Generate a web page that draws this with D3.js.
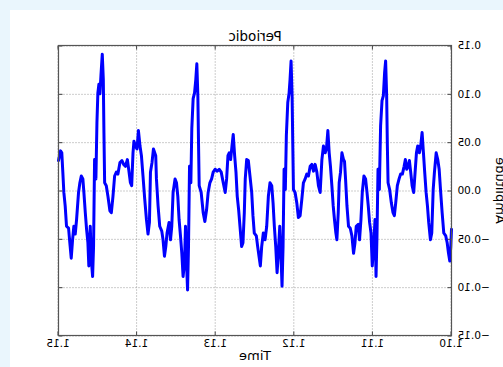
<!DOCTYPE html>
<html>
<head>
<meta charset="utf-8">
<script src="https://cdn.jsdelivr.net/npm/d3@7"></script>
<style>
  html, body { margin: 0; padding: 0; background: #eaf6fd; }
  svg { display: block; transform: scaleX(-1); }
  .axis text { font-family: "DejaVu Sans", sans-serif; font-size: 10.5px; fill: #000; }
  .axis line { stroke: #444; }
  .grid line { stroke: #9a9a9a; stroke-dasharray: 1,2; }
  .lbl { font-family: "DejaVu Sans", sans-serif; fill: #000; }
</style>
</head>
<body>
<div id="chart"></div>
<script>
// signal samples (time descending)
const times = [
  1.15000,1.14974,1.14958,1.14945,1.14932,1.14915,1.14898,1.14872,1.14856,1.14838,
  1.14821,1.14805,1.14787,1.14770,1.14745,1.14728,1.14710,1.14690,1.14677,1.14659,
  1.14643,1.14626,1.14614,1.14596,1.14583,1.14566,1.14554,1.14541,1.14524,1.14511,
  1.14499,1.14486,1.14473,1.14460,1.14443,1.14430,1.14422,1.14413,1.14392,1.14371,
  1.14346,1.14328,1.14307,1.14286,1.14264,1.14244,1.14218,1.14193,1.14171,1.14149,
  1.14124,1.14107,1.14085,1.14069,1.14052,1.14040,1.14022,1.14001,1.13983,1.13963,
  1.13945,1.13925,1.13903,1.13881,1.13861,1.13843,1.13830,1.13810,1.13792,
  1.13763,1.13754,1.13733,1.13712,1.13686,1.13670,1.13652,1.13635,1.13619,1.13593,
  1.13575,1.13559,1.13542,1.13517,1.13499,1.13482,1.13466,1.13448,1.13431,1.13415,
  1.13397,1.13384,1.13371,1.13358,1.13346,1.13333,1.13316,1.13304,1.13287,1.13269,
  1.13253,1.13240,1.13227,1.13218,1.13210,1.13185,1.13159,1.13138,1.13116,1.13096,
  1.13074,1.13052,1.13032,1.13006,1.12981,1.12955,1.12930,1.12904,1.12879,1.12861,
  1.12844,1.12828,1.12810,1.12793,1.12777,1.12759,1.12742,1.12726,1.12708,1.12691,
  1.12670,1.12653,1.12636,1.12624,1.12606,1.12585,1.12564,
  1.12542,1.12526,1.12509,1.12483,1.12466,1.12449,1.12432,1.12415,1.12394,1.12372,
  1.12351,1.12330,1.12309,1.12287,1.12270,1.12254,1.12236,1.12219,1.12203,1.12185,
  1.12168,1.12156,1.12143,1.12130,1.12114,1.12101,1.12083,1.12066,1.12054,1.12041,
  1.12028,1.12019,1.12011,1.11990,1.11968,1.11948,1.11926,1.11904,1.11884,1.11862,
  1.11841,1.11820,1.11798,1.11777,1.11756,1.11735,1.11713,1.11693,1.11671,1.11649,
  1.11629,1.11607,1.11591,1.11573,1.11556,1.11540,1.11522,1.11505,1.11489,1.11471,
  1.11458,1.11441,1.11429,1.11412,1.11394,1.11374,
  1.11361,1.11348,1.11330,1.11310,1.11288,1.11267,1.11246,1.11228,1.11212,1.11186,
  1.11170,1.11152,1.11135,1.11114,1.11093,1.11075,1.11059,1.11042,1.11024,1.11008,
  1.10991,1.10973,1.10960,1.10948,1.10935,1.10918,1.10902,1.10884,1.10867,1.10851,
  1.10838,1.10825,1.10816,1.10807,1.10787,1.10765,1.10744,1.10727,1.10710,1.10689,
  1.10667,1.10647,1.10625,1.10603,1.10587,1.10570,1.10552,1.10536,1.10519,1.10501,
  1.10481,1.10463,1.10446,1.10430,1.10408,1.10392,1.10374,1.10357,1.10341,1.10323,
  1.10306,1.10290,1.10268,1.10251,1.10233,1.10217,1.10195,1.10175,1.10157,1.10140,
  1.10119,1.10098,1.10073,1.10055,1.10038,1.10022,1.10009,1.10000
];

const amplitude = [
  0.031,0.041,0.039,0.019,-0.002,-0.016,-0.037,-0.039,-0.054,-0.070,
  -0.051,-0.037,-0.045,-0.030,-0.002,0.008,0.015,0.012,-0.002,-0.023,
  -0.040,-0.054,-0.078,-0.037,-0.071,-0.089,-0.058,0.032,0.012,0.070,
  0.101,0.110,0.100,0.119,0.141,0.115,0.060,0.008,0.005,-0.006,
  -0.021,-0.023,-0.006,0.015,0.019,0.017,0.029,0.031,0.027,0.025,
  0.032,0.022,0.008,0.005,0.039,0.051,0.046,0.043,0.062,0.046,
  0.036,0.015,-0.009,-0.030,-0.045,-0.033,0.019,0.029,0.043,
  0.036,0.012,-0.016,-0.037,-0.042,-0.051,-0.068,-0.058,-0.044,-0.033,
  -0.051,-0.037,-0.002,0.012,0.008,-0.006,-0.030,-0.047,-0.065,-0.089,
  -0.075,-0.037,-0.075,-0.103,-0.058,0.025,0.008,0.064,0.095,0.101,
  0.115,0.131,0.098,0.046,0.005,-0.002,-0.023,-0.032,-0.020,-0.002,
  0.008,0.012,0.019,0.022,0.020,0.022,0.019,0.008,-0.002,0.012,
  0.036,0.039,0.032,0.046,0.058,0.036,0.019,-0.006,-0.020,-0.037,
  -0.058,-0.054,-0.023,0.012,0.032,0.031,0.015,
  -0.002,-0.026,-0.044,-0.047,-0.058,-0.068,-0.078,-0.058,-0.044,-0.051,
  -0.037,-0.006,0.008,0.005,-0.013,-0.037,-0.058,-0.085,-0.065,-0.037,
  -0.071,-0.099,-0.058,0.022,0.001,0.057,0.091,0.101,0.115,0.134,
  0.098,0.046,0.001,-0.002,-0.013,-0.028,-0.026,-0.009,0.008,0.012,
  0.017,0.015,0.025,0.027,0.020,0.027,0.019,0.005,-0.002,0.032,
  0.046,0.039,0.043,0.062,0.039,0.025,0.005,-0.016,-0.030,-0.044,
  -0.051,-0.023,0.008,0.019,0.039,0.032,
  0.030,0.012,-0.016,-0.037,-0.039,-0.047,-0.065,-0.054,-0.037,-0.035,
  -0.051,-0.030,-0.002,0.015,0.012,-0.002,-0.016,-0.033,-0.044,-0.078,
  -0.058,-0.030,-0.089,-0.047,0.022,0.001,0.067,0.093,0.098,0.122,
  0.134,0.098,0.046,0.008,0.001,-0.013,-0.023,-0.026,-0.013,0.005,
  0.012,0.017,0.017,0.025,0.032,0.022,0.025,0.031,0.019,0.005,
  -0.002,0.019,0.039,0.046,0.039,0.046,0.060,0.039,0.019,-0.002,
  -0.016,-0.033,-0.051,-0.044,0.001,0.019,0.039,0.032,0.022,0.001,
  -0.023,-0.044,-0.047,-0.054,-0.065,-0.073,-0.058,-0.040
];

const xTicks = [1.10, 1.11, 1.12, 1.13, 1.14, 1.15];
const yTicks = [-0.15, -0.10, -0.05, 0.00, 0.05, 0.10, 0.15];
const titleText = 'Periodic';
const xLabel = 'Time';
const yLabel = 'Amplitude';

const W = 503, H = 367;
const plot = {left: 51.5, right: 444.5, top: 45.5, bottom: 335.5};

const svg = d3.select('#chart').append('svg')
  .attr('width', W)
  .attr('height', H);

// figure face
svg.append('rect')
  .attr('x', 0).attr('y', 10)
  .attr('width', 493).attr('height', H - 10)
  .attr('fill', '#fff');

const x = d3.scaleLinear().domain([1.10, 1.15]).range([plot.left, plot.right]);
const y = d3.scaleLinear().domain([-0.15, 0.15]).range([plot.bottom, plot.top]);
const fmt = d3.format('.2f');

// dotted grid
svg.append('g')
  .attr('class', 'grid')
  .attr('transform', `translate(0,${plot.bottom})`)
  .call(d3.axisBottom(x).tickValues(xTicks).tickSize(-(plot.bottom - plot.top)).tickFormat(''))
  .call(g => g.select('.domain').remove());

svg.append('g')
  .attr('class', 'grid')
  .attr('transform', `translate(${plot.left},0)`)
  .call(d3.axisLeft(y).tickValues(yTicks).tickSize(-(plot.right - plot.left)).tickFormat(''))
  .call(g => g.select('.domain').remove());

// signal
const data = d3.zip(times, amplitude);
const line = d3.line()
  .x(d => x(d[0]))
  .y(d => y(d[1]));

svg.append('path')
  .datum(data)
  .attr('fill', 'none')
  .attr('stroke', '#0000ff')
  .attr('stroke-width', 3)
  .attr('stroke-linejoin', 'round')
  .attr('stroke-linecap', 'round')
  .attr('d', line);

// axes with inward ticks
svg.append('g')
  .attr('class', 'axis')
  .attr('transform', `translate(0,${plot.bottom})`)
  .call(d3.axisBottom(x).tickValues(xTicks).tickFormat(fmt).tickSize(-4).tickPadding(4))
  .call(g => g.select('.domain').remove());

svg.append('g')
  .attr('class', 'axis')
  .attr('transform', `translate(0,${plot.top})`)
  .call(d3.axisTop(x).tickValues(xTicks).tickFormat('').tickSize(-4))
  .call(g => g.select('.domain').remove());

svg.append('g')
  .attr('class', 'axis')
  .attr('transform', `translate(${plot.left},0)`)
  .call(d3.axisLeft(y).tickValues(yTicks).tickFormat(fmt).tickSize(-4).tickPadding(6))
  .call(g => g.select('.domain').remove());

svg.append('g')
  .attr('class', 'axis')
  .attr('transform', `translate(${plot.right},0)`)
  .call(d3.axisRight(y).tickValues(yTicks).tickFormat('').tickSize(-4))
  .call(g => g.select('.domain').remove());

// frame
svg.append('rect')
  .attr('x', plot.left).attr('y', plot.top)
  .attr('width', plot.right - plot.left)
  .attr('height', plot.bottom - plot.top)
  .attr('fill', 'none')
  .attr('stroke', '#555')
  .attr('stroke-width', 1.2);

// labels
svg.append('text')
  .attr('class', 'lbl')
  .attr('x', (plot.left + plot.right) / 2)
  .attr('y', 40.5)
  .attr('text-anchor', 'middle')
  .style('font-size', '13.5px')
  .text(titleText);

svg.append('text')
  .attr('class', 'lbl')
  .attr('x', (plot.left + plot.right) / 2)
  .attr('y', 360)
  .attr('text-anchor', 'middle')
  .style('font-size', '13px')
  .text(xLabel);

svg.append('text')
  .attr('class', 'lbl')
  .attr('transform', `translate(7,${(plot.top + plot.bottom) / 2}) rotate(-90)`)
  .attr('text-anchor', 'middle')
  .style('font-size', '13px')
  .text(yLabel);
</script>
</body>
</html>
